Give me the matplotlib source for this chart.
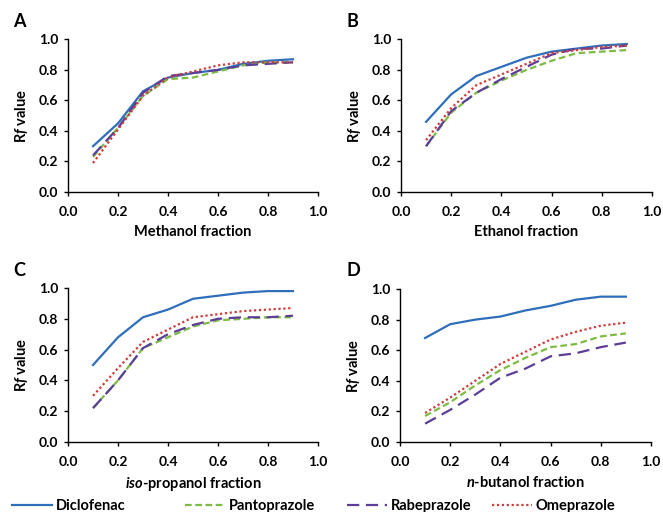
import numpy as np
import matplotlib
matplotlib.use("Agg")
import matplotlib.pyplot as plt

plt.rcParams['font.family'] = ['Lato', 'DejaVu Sans']
plt.rcParams['font.weight'] = 'bold'
plt.rcParams['mathtext.fontset'] = 'custom'
plt.rcParams['mathtext.it'] = 'Lato:italic:bold'
plt.rcParams['mathtext.rm'] = 'Lato:bold'
plt.rcParams['mathtext.bf'] = 'Lato:bold'

# solvent fraction on x axis
fraction = [0.1, 0.2, 0.3, 0.4, 0.5, 0.6, 0.7, 0.8, 0.9]

drugs = ["Diclofenac", "Pantoprazole", "Rabeprazole", "Omeprazole"]

# Rf values, panel A (methanol)
methanol_diclofenac = [0.30, 0.45, 0.66, 0.75, 0.78, 0.80, 0.84, 0.86, 0.87]
methanol_pantoprazole = [0.23, 0.42, 0.63, 0.74, 0.75, 0.79, 0.83, 0.85, 0.85]
methanol_rabeprazole = [0.24, 0.42, 0.65, 0.76, 0.78, 0.80, 0.83, 0.84, 0.85]
methanol_omeprazole = [0.19, 0.41, 0.63, 0.75, 0.79, 0.83, 0.85, 0.85, 0.85]

# panel B (ethanol)
ethanol_diclofenac = [0.46, 0.64, 0.76, 0.82, 0.88, 0.92, 0.94, 0.96, 0.97]
ethanol_pantoprazole = [0.30, 0.52, 0.65, 0.73, 0.80, 0.86, 0.91, 0.92, 0.93]
ethanol_rabeprazole = [0.30, 0.53, 0.65, 0.74, 0.82, 0.90, 0.94, 0.94, 0.96]
ethanol_omeprazole = [0.34, 0.55, 0.70, 0.77, 0.84, 0.91, 0.93, 0.95, 0.96]

# panel C (iso-propanol)
propanol_diclofenac = [0.50, 0.68, 0.81, 0.86, 0.93, 0.95, 0.97, 0.98, 0.98]
propanol_pantoprazole = [0.22, 0.40, 0.61, 0.68, 0.75, 0.79, 0.80, 0.81, 0.81]
propanol_rabeprazole = [0.22, 0.40, 0.61, 0.70, 0.76, 0.80, 0.81, 0.81, 0.82]
propanol_omeprazole = [0.30, 0.48, 0.65, 0.73, 0.81, 0.83, 0.85, 0.86, 0.87]

# panel D (n-butanol)
butanol_diclofenac = [0.68, 0.77, 0.80, 0.82, 0.86, 0.89, 0.93, 0.95, 0.95]
butanol_pantoprazole = [0.17, 0.26, 0.37, 0.47, 0.55, 0.62, 0.64, 0.69, 0.71]
butanol_rabeprazole = [0.12, 0.21, 0.31, 0.42, 0.48, 0.56, 0.58, 0.62, 0.65]
butanol_omeprazole = [0.19, 0.29, 0.40, 0.51, 0.59, 0.67, 0.72, 0.76, 0.78]

panels = [
    ("A", "Methanol fraction",
     [methanol_diclofenac, methanol_pantoprazole, methanol_rabeprazole, methanol_omeprazole]),
    ("B", "Ethanol fraction",
     [ethanol_diclofenac, ethanol_pantoprazole, ethanol_rabeprazole, ethanol_omeprazole]),
    ("C", r"$\mathit{iso}$-propanol fraction",
     [propanol_diclofenac, propanol_pantoprazole, propanol_rabeprazole, propanol_omeprazole]),
    ("D", r"$\mathit{n}$-butanol fraction",
     [butanol_diclofenac, butanol_pantoprazole, butanol_rabeprazole, butanol_omeprazole]),
]

colors = ["#2F6EBA", "#7DBB42", "#5B3E97", "#D03A3A"]
styles = ["-", (0, (3, 1.6)), (0, (5.5, 3)), (0, (1, 1.2))]

fig = plt.figure(figsize=(6.63, 5.12), dpi=100)

# axes positions in figure fraction
positions = [
    [0.1026, 0.625, 0.377, 0.298],
    [0.6048, 0.625, 0.3785, 0.298],
    [0.1026, 0.1367, 0.377, 0.3008],
    [0.6033, 0.1367, 0.3785, 0.2988],
]
letter_xy = [(0.02, 0.958), (0.522, 0.958), (0.02, 0.472), (0.522, 0.472)]

handles = []
for i, (letter, xlabel, series) in enumerate(panels):
    ax = fig.add_axes(positions[i])
    for j, vals in enumerate(series):
        h, = ax.plot(fraction, vals, color=colors[j], linestyle=styles[j],
                     linewidth=1.6, label=drugs[j])
        if i == 0:
            handles.append(h)
    ax.set_xlim(0, 1.0)
    ax.set_ylim(0, 1.0)
    ax.set_xticks(np.arange(0, 1.01, 0.2))
    ax.set_yticks(np.arange(0, 1.01, 0.2))
    ax.xaxis.set_major_formatter(matplotlib.ticker.FormatStrFormatter("%.1f"))
    ax.yaxis.set_major_formatter(matplotlib.ticker.FormatStrFormatter("%.1f"))
    ax.spines["top"].set_visible(False)
    ax.spines["right"].set_visible(False)
    ax.spines["left"].set_linewidth(1.0)
    ax.spines["bottom"].set_linewidth(1.0)
    ax.tick_params(direction="out", length=3, width=1.0, labelsize=10, pad=4)
    ax.tick_params(axis="x", pad=7)
    ax.set_xlabel(xlabel, fontsize=10.5, fontweight="bold", labelpad=5)
    ax.set_ylabel(r"R$\mathit{f}$ value", fontsize=10.5, fontweight="bold", labelpad=6)
    fig.text(letter_xy[i][0], letter_xy[i][1], letter, fontsize=13,
             fontweight="bold", ha="left", va="center")

# one legend entry per slot along the bottom
legend_x = [0.018, 0.279, 0.523, 0.742]
for k, h in enumerate(handles):
    leg = fig.legend(handles=[h], labels=[drugs[k]], loc="center left",
                     frameon=False, fontsize=10.5,
                     bbox_to_anchor=(legend_x[k], 0.012),
                     handlelength=2.75, handletextpad=0.25,
                     borderaxespad=0, borderpad=0)

fig.savefig("out.png", dpi=100)
